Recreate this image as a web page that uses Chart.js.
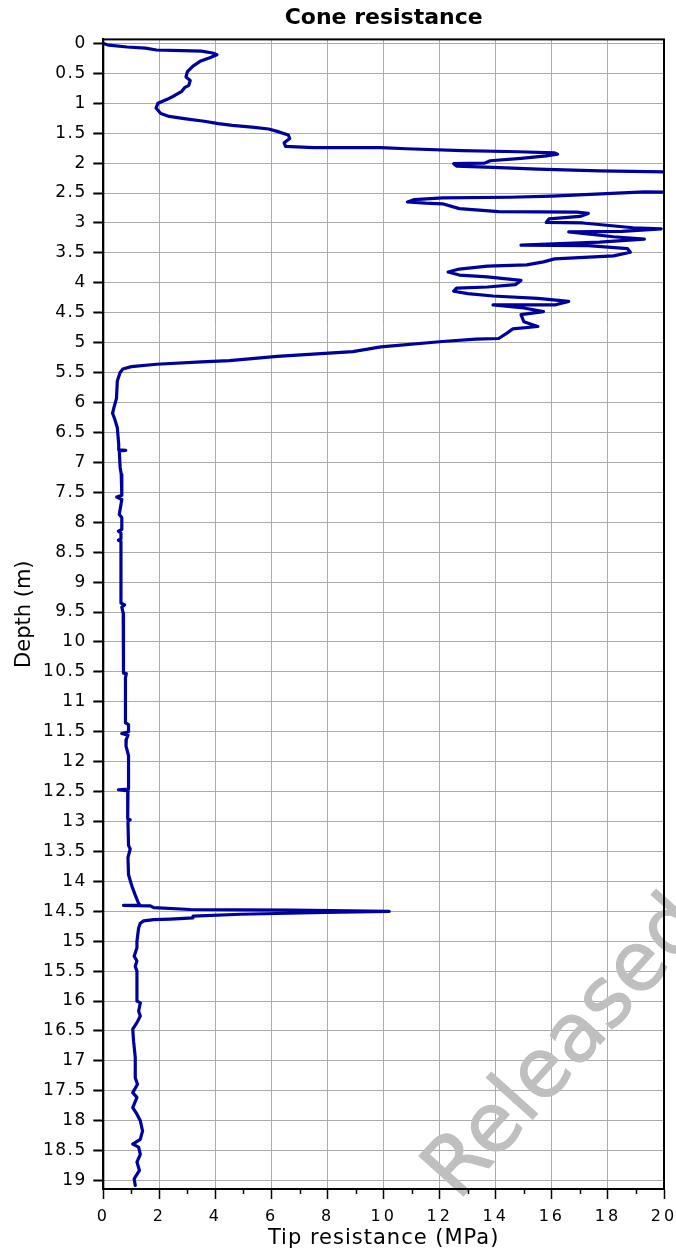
<!DOCTYPE html>
<html>
<head>
<meta charset="utf-8">
<title>Cone resistance</title>
<script src="https://cdn.jsdelivr.net/npm/chart.js@4/dist/chart.umd.min.js"></script>
<style>
  html, body { margin: 0; padding: 0; background: #ffffff; }
  #wrap { width: 676px; height: 1254px; }
  canvas { display: block; }
</style>
</head>
<body>
<div id="wrap"><canvas id="cpt" width="676" height="1254"></canvas></div>
<script>
// CPT sounding: depth below ground (m) and cone tip resistance qc (MPa), in logging order.
const depth = [
  0.00, 0.03, 0.06, 0.08, 0.11, 0.12, 0.13, 0.16, 0.19, 0.24,
  0.30, 0.38, 0.47, 0.56, 0.62, 0.70, 0.74, 0.80, 0.87, 0.93,
  1.00, 1.08, 1.17, 1.22, 1.26, 1.30, 1.34, 1.37, 1.40, 1.43,
  1.47, 1.53, 1.59, 1.66, 1.72, 1.74, 1.74, 1.76, 1.79, 1.81,
  1.83, 1.85, 1.88, 1.92, 1.96, 2.00, 2.01, 2.05, 2.07, 2.10,
  2.13, 2.15, 2.49, 2.48, 2.55, 2.57, 2.58, 2.61, 2.65, 2.67,
  2.68, 2.76, 2.81, 2.82, 2.84, 2.89, 2.93, 2.99, 3.00, 3.08,
  3.10, 3.14, 3.15, 3.23, 3.27, 3.32, 3.37, 3.38, 3.43, 3.49,
  3.55, 3.60, 3.65, 3.70, 3.72, 3.77, 3.82, 3.87, 3.90, 3.96,
  4.03, 4.07, 4.09, 4.14, 4.18, 4.22, 4.26, 4.31, 4.37, 4.37,
  4.42, 4.48, 4.53, 4.65, 4.73, 4.77, 4.84, 4.93, 4.94, 4.98,
  5.07, 5.15, 5.23, 5.30, 5.32, 5.36, 5.40, 5.44, 5.50, 5.64,
  5.93, 6.10, 6.18, 6.28, 6.42, 6.70, 6.79, 6.80, 6.81, 7.08,
  7.20, 7.38, 7.55, 7.58, 7.62, 7.87, 7.92, 8.12, 8.15, 8.18,
  8.28, 8.30, 8.32, 9.35, 9.38, 9.42, 9.52, 10.52, 10.53, 10.60,
  11.35, 11.38, 11.50, 11.53, 11.56, 11.63, 11.74, 11.90, 12.46, 12.47,
  12.49, 12.96, 12.97, 13.00, 13.40, 13.46, 13.60, 13.89, 14.08, 14.23,
  14.37, 14.40, 14.40, 14.41, 14.44, 14.47, 14.48, 14.50, 14.52, 14.55,
  14.58, 14.61, 14.63, 14.64, 14.66, 14.70, 14.78, 15.00, 15.11, 15.25,
  15.33, 15.42, 15.50, 16.00, 16.03, 16.17, 16.25, 16.36, 16.47, 16.67,
  16.94, 17.28, 17.39, 17.53, 17.61, 17.78, 17.89, 18.00, 18.17, 18.31,
  18.39, 18.44, 18.56, 18.69, 18.83, 18.97, 19.08
];
const tipResistance = [
  0.00, 0.20, 0.85, 1.50, 1.90, 2.80, 3.50, 3.90, 4.05, 3.80,
  3.45, 3.20, 3.00, 2.95, 3.10, 3.05, 2.90, 2.80, 2.55, 2.30,
  1.95, 1.88, 2.05, 2.35, 2.95, 3.60, 4.10, 4.60, 5.30, 5.90,
  6.20, 6.60, 6.65, 6.45, 6.50, 7.50, 9.90, 10.80, 12.80, 14.80,
  16.10, 16.20, 15.80, 14.90, 13.80, 13.60, 12.50, 12.60, 13.90, 15.50,
  17.70, 20.60, 20.60, 19.30, 16.00, 14.50, 12.10, 11.10, 10.85, 11.50,
  12.10, 12.70, 14.10, 16.90, 17.30, 17.00, 15.90, 15.80, 17.10, 18.90,
  19.90, 18.50, 16.60, 18.20, 19.30, 17.70, 14.90, 17.30, 18.70, 18.80,
  18.20, 16.10, 15.70, 15.10, 13.70, 12.70, 12.30, 12.70, 13.70, 14.90,
  14.70, 13.70, 12.60, 12.50, 13.00, 13.90, 15.50, 16.60, 16.10, 13.90,
  15.00, 15.70, 14.90, 15.00, 15.50, 14.60, 14.40, 14.10, 13.30, 12.10,
  9.90, 8.90, 6.20, 4.50, 3.50, 1.90, 1.00, 0.70, 0.60, 0.50,
  0.47, 0.37, 0.33, 0.41, 0.50, 0.55, 0.55, 0.80, 0.57, 0.60,
  0.64, 0.66, 0.66, 0.48, 0.66, 0.57, 0.66, 0.66, 0.54, 0.63,
  0.63, 0.54, 0.63, 0.63, 0.76, 0.66, 0.71, 0.72, 0.82, 0.79,
  0.79, 0.90, 0.90, 0.66, 0.88, 0.82, 0.81, 0.90, 0.90, 0.54,
  0.88, 0.87, 0.96, 0.88, 0.90, 0.96, 0.88, 0.90, 1.02, 1.14,
  1.26, 1.32, 0.72, 1.68, 1.80, 3.10, 6.70, 10.20, 7.90, 4.90,
  3.20, 3.20, 2.40, 1.80, 1.44, 1.32, 1.26, 1.20, 1.20, 1.10,
  1.20, 1.14, 1.20, 1.20, 1.32, 1.26, 1.32, 1.20, 1.05, 1.08,
  1.14, 1.14, 1.22, 1.05, 1.20, 1.05, 1.20, 1.32, 1.40, 1.32,
  1.05, 1.26, 1.32, 1.20, 1.29, 1.10, 1.14
];

// Axis ticks
const depthTicks = [
  0, 0.5, 1, 1.5, 2, 2.5, 3, 3.5, 4, 4.5, 5, 5.5, 6, 6.5, 7, 7.5, 8, 8.5, 9, 9.5,
  10, 10.5, 11, 11.5, 12, 12.5, 13, 13.5, 14, 14.5, 15, 15.5, 16, 16.5, 17, 17.5,
  18, 18.5, 19
];
const resistanceTicks = [0, 2, 4, 6, 8, 10, 12, 14, 16, 18, 20];
const resistanceMinorTicks = [1, 3, 5, 7, 9, 11, 13, 15, 17, 19];

const FONT = '"DejaVu Sans", Verdana, sans-serif';
const INK = '#000000';
const GRID = '#ababab';
const TRACE = '#00009c';
const STAMP = '#bfbfbf';

const points = depth.map((d, i) => ({ x: tipResistance[i], y: d }));

// Wraps a scale drawing method so its text is drawn with extra letter spacing.
function spaced(fn, spacing) {
  return function (...args) {
    const ctx = this.ctx;
    ctx.letterSpacing = spacing;
    const out = fn.apply(this, args);
    ctx.letterSpacing = '0px';
    return out;
  };
}

const spacingPlugin = {
  id: 'labelSpacing',
  beforeDraw(chart) {
    const { x, y } = chart.scales;
    if (!x._spaced) {
      x.drawLabels = spaced(x.drawLabels, '3px');
      x.drawTitle = spaced(x.drawTitle, '1px');
      y.drawLabels = spaced(y.drawLabels, '1.5px');
      x._spaced = true;
    }
  }
};

// Stamp, minor tick marks on the resistance axis and the black frame around the plot.
const framePlugin = {
  id: 'frame',
  afterDraw(chart) {
    const { ctx, chartArea: a, scales: { x } } = chart;
    ctx.save();

    ctx.save();
    ctx.translate(458, 1202);
    ctx.rotate(-48 * Math.PI / 180);
    ctx.font = '82px ' + FONT;
    ctx.fillStyle = STAMP;
    ctx.strokeStyle = STAMP;
    ctx.lineWidth = 1;
    ctx.textBaseline = 'alphabetic';
    ctx.textAlign = 'left';
    ctx.fillText('Released', 0, 0);
    ctx.strokeText('Released', 0, 0);
    ctx.restore();

    ctx.strokeStyle = INK;
    ctx.lineWidth = 1.5;
    ctx.beginPath();
    resistanceMinorTicks.forEach(v => {
      const px = Math.round(x.getPixelForValue(v)) + 0.5;
      ctx.moveTo(px, a.bottom);
      ctx.lineTo(px, a.bottom + 5);
    });
    ctx.stroke();

    ctx.lineWidth = 2;
    ctx.strokeRect(a.left, a.top, a.right - a.left, a.bottom - a.top);
    ctx.restore();
  }
};

new Chart(document.getElementById('cpt'), {
  type: 'scatter',
  data: {
    datasets: [{
      label: 'qc',
      data: points,
      showLine: true,
      borderColor: TRACE,
      backgroundColor: TRACE,
      borderWidth: 3.2,
      pointRadius: 0,
      tension: 0,
      borderJoinStyle: 'round',
      borderCapStyle: 'round'
    }]
  },
  options: {
    responsive: false,
    animation: false,
    devicePixelRatio: 1,
    layout: { padding: { left: 0, right: 12, top: 0, bottom: 0 } },
    plugins: {
      legend: { display: false },
      tooltip: { enabled: false },
      title: {
        display: true,
        fullSize: false,
        text: 'Cone resistance',
        color: INK,
        font: { family: FONT, size: 22, weight: 'bold', lineHeight: 1.2 },
        padding: { top: 4.8, bottom: 8.2 }
      }
    },
    scales: {
      x: {
        type: 'linear',
        position: 'bottom',
        min: 0,
        max: 20,
        afterBuildTicks: s => { s.ticks = resistanceTicks.map(v => ({ value: v })); },
        afterFit: s => { s.height = 65; s.paddingLeft = 0; s.paddingRight = 0; },
        ticks: {
          color: INK,
          font: { family: FONT, size: 16 },
          padding: 8,
          maxRotation: 0,
          autoSkip: false,
          callback: v => String(v)
        },
        grid: {
          color: GRID,
          lineWidth: 1,
          tickLength: 10,
          tickColor: INK,
          tickWidth: 1.5
        },
        border: { color: INK, width: 2 },
        title: {
          display: true,
          text: 'Tip resistance (MPa)',
          color: INK,
          font: { family: FONT, size: 21, lineHeight: 1.2 },
          padding: { top: 0, bottom: 3 }
        }
      },
      y: {
        type: 'linear',
        position: 'left',
        reverse: true,
        min: -0.067,
        max: 19.14,
        afterBuildTicks: s => { s.ticks = depthTicks.map(v => ({ value: v })); },
        afterFit: s => { s.width = 103.3; s.paddingTop = 0; s.paddingBottom = 0; },
        ticks: {
          color: INK,
          font: { family: FONT, size: 17 },
          padding: 6.5,
          autoSkip: false,
          callback: v => String(v)
        },
        grid: {
          color: GRID,
          lineWidth: 1,
          tickLength: 10,
          tickColor: INK,
          tickWidth: 2
        },
        border: { color: INK, width: 2 },
        title: {
          display: true,
          text: 'Depth (m)',
          color: INK,
          font: { family: FONT, size: 21, lineHeight: 1.2 },
          padding: { top: 12, bottom: 0 }
        }
      }
    }
  },
  plugins: [spacingPlugin, framePlugin]
});
</script>
</body>
</html>
